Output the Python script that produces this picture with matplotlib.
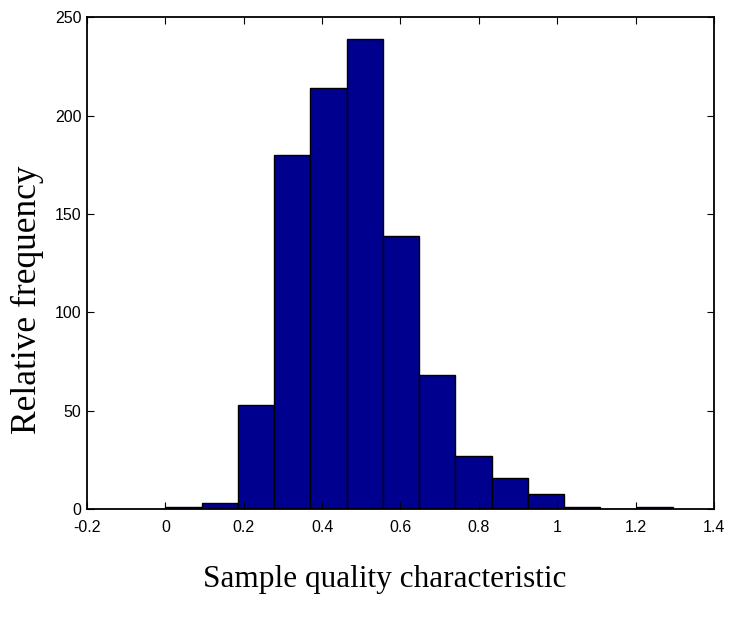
import matplotlib.pyplot as plt
from matplotlib.ticker import FuncFormatter

# bin edges and counts
bin_edges = [0.0, 0.0925, 0.185, 0.2775, 0.37, 0.4625, 0.555, 0.6475,
             0.74, 0.8325, 0.925, 1.0175, 1.11, 1.2025, 1.295]
counts = [1, 3, 53, 180, 214, 239, 139, 68, 27, 16, 8, 1, 0, 1]
x_ticks = [-0.2, 0, 0.2, 0.4, 0.6, 0.8, 1, 1.2, 1.4]
y_ticks = [0, 50, 100, 150, 200, 250]

fig = plt.figure(figsize=(7.31, 6.17), dpi=100)
ax = fig.add_axes([0.119, 0.1746, 0.8577, 0.7974])

lefts = bin_edges[:-1]
widths = [b - a for a, b in zip(bin_edges[:-1], bin_edges[1:])]
ax.bar(lefts, counts, width=widths, align="edge",
       color="#00008f", edgecolor="black", linewidth=1.0)

ax.set_xlim(-0.2, 1.4)
ax.set_ylim(0, 250)
ax.set_xticks(x_ticks)
ax.set_yticks(y_ticks)
ax.xaxis.set_major_formatter(FuncFormatter(lambda v, p: ("%g" % round(v, 2))))

for sp in ax.spines.values():
    sp.set_linewidth(1.3)
    sp.set_color("black")

ax.tick_params(direction="in", length=5, width=0.8, top=True, right=True,
               labelsize=11.5)
ax.tick_params(axis="x", pad=8)
ax.tick_params(axis="y", pad=4)
for lab in ax.get_xticklabels() + ax.get_yticklabels():
    lab.set_fontfamily("Liberation Sans")

fig.text(385 / 731, 1 - 587 / 617, "Sample quality characteristic",
         ha="center", va="baseline", fontsize=22.5, fontfamily="Liberation Serif")
fig.text(27 / 731, 1 - 300 / 617, "Relative frequency", rotation=90,
         ha="center", va="center", fontsize=25.5, fontfamily="Liberation Serif")

fig.savefig("out.png", dpi=100)
